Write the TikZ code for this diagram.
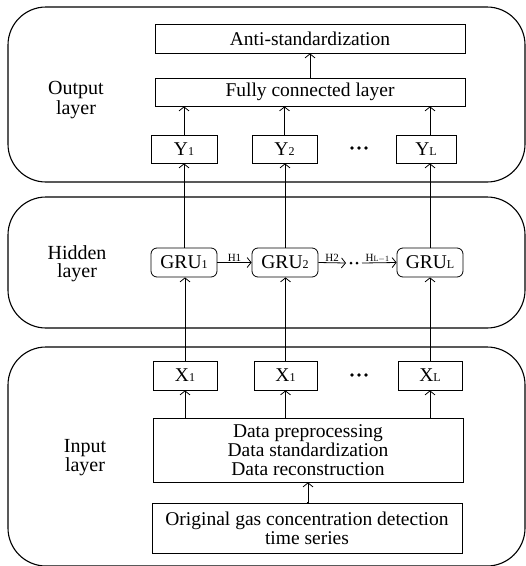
\documentclass[tikz,border=0pt]{standalone}
\usepackage{fontspec}
\setmainfont{Liberation Serif}
\usetikzlibrary{arrows.meta}
\newcommand\sbs[1]{{\fontsize{12}{12}\selectfont #1}}
\begin{document}
\begin{tikzpicture}[x=1pt,y=-1pt,
  panel/.style={draw,line width=1.1pt,rounded corners=38pt},
  box/.style={draw,line width=0.8pt,inner sep=0pt,align=center,font=\fontsize{19.5}{19}\selectfont},
  gru/.style={box,rounded corners=6pt},
  lbl/.style={align=center,font=\fontsize{20}{18}\selectfont},
  hl/.style={inner sep=0pt,font=\fontsize{11}{11}\selectfont},
  arr/.style={-{Straight Barb[length=4pt,width=10pt]},line width=0.8pt}]
\useasboundingbox (0,0) rectangle (526,566);
% panels
\draw[panel] (8,7) rectangle (525,182);
\draw[panel] (8,197) rectangle (525,328);
\draw[panel] (8,347) rectangle (525,566);
% labels
\node[lbl] (lo) at (76,100) {Output\\layer};
\node[lbl] (lh) at (77,264) {Hidden\\layer};
\node[lbl] (li) at (85,458) {Input\\layer};
% output
\node[box,minimum width=310pt,minimum height=29pt] (anti) at (310,38.5) {Anti-standardization};
\node[box,minimum width=310pt,minimum height=28pt] (fc) at (310,92) {Fully connected layer};
\node[box,minimum width=66pt,minimum height=28pt] (y1) at (184,149) {Y\sbs{1}};
\node[box,minimum width=65pt,minimum height=28pt] (y2) at (284.5,149) {Y\sbs{2}};
\node[box,minimum width=60pt,minimum height=28pt] (yl) at (426,149) {Y\sbs{L}};
% hidden
\node[gru,minimum width=66pt,minimum height=29pt] (g1) at (184,262.5) {GRU\sbs{1}};
\node[gru,minimum width=66pt,minimum height=29pt] (g2) at (285,262.5) {GRU\sbs{2}};
\node[gru,minimum width=66pt,minimum height=29pt] (gl) at (430,262.5) {GRU\sbs{L}};
% input
\node[box,minimum width=64pt,minimum height=29pt] (x1) at (185,375.5) {X\sbs{1}};
\node[box,minimum width=63pt,minimum height=29pt] (x2) at (285.5,375.5) {X\sbs{1}};
\node[box,minimum width=64pt,minimum height=29pt] (xl) at (430,375.5) {X\sbs{L}};
\node[box,minimum width=310pt,minimum height=64pt] (prep) at (308,450) {Data preprocessing\\Data standardization\\Data reconstruction};
\node[box,minimum width=310pt,minimum height=50pt] (orig) at (307,528) {Original gas concentration detection\\time series};
% dots
\foreach \x in {352,359,366}{
  \fill (\x,148) circle (1.9pt);
  \fill (\x,375) circle (1.9pt);
}
\fill (351,263) circle (1.5pt);
\fill (357,263) circle (1.5pt);
\coordinate (h2e) at (346,263);
\coordinate (hls) at (362,263);
% connectors
\draw[arr] (fc.north -| anti.south) -- (anti.south);
\draw[arr] (y1.north) -- (y1.north |- fc.south);
\draw[arr] (y2.north) -- (y2.north |- fc.south);
\draw[arr] (gl.north |- yl.north) -- (gl.north |- fc.south);
\draw[arr] (g1.north) -- (y1.south);
\draw[arr] (g2.north) -- (g2.north |- y2.south);
\draw[arr] (gl.north) -- (gl.north |- yl.south);
\draw[arr] (x1.north) -- (x1.north |- g1.south);
\draw[arr] (x2.north) -- (x2.north |- g2.south);
\draw[arr] (xl.north) -- (gl.south);
\draw[arr] (x1.south |- prep.north) -- (x1.south);
\draw[arr] (x2.south |- prep.north) -- (x2.south);
\draw[arr] (xl.south |- prep.north) -- (xl.south);
\draw[arr] (orig.north) -- (orig.north -| prep.south) -- (prep.south);
\draw[arr] (g1.east) -- node[hl,above=1pt] {H1} (g2.west);
\draw[arr] (g2.east) -- node[hl,above=1pt] {H2} (h2e);
\draw[arr] (hls) -- node[hl,above=0pt,xshift=-2pt] {H\sbs{\fontsize{8}{8}\selectfont L$-$1}} (gl.west);
\end{tikzpicture}
\end{document}
